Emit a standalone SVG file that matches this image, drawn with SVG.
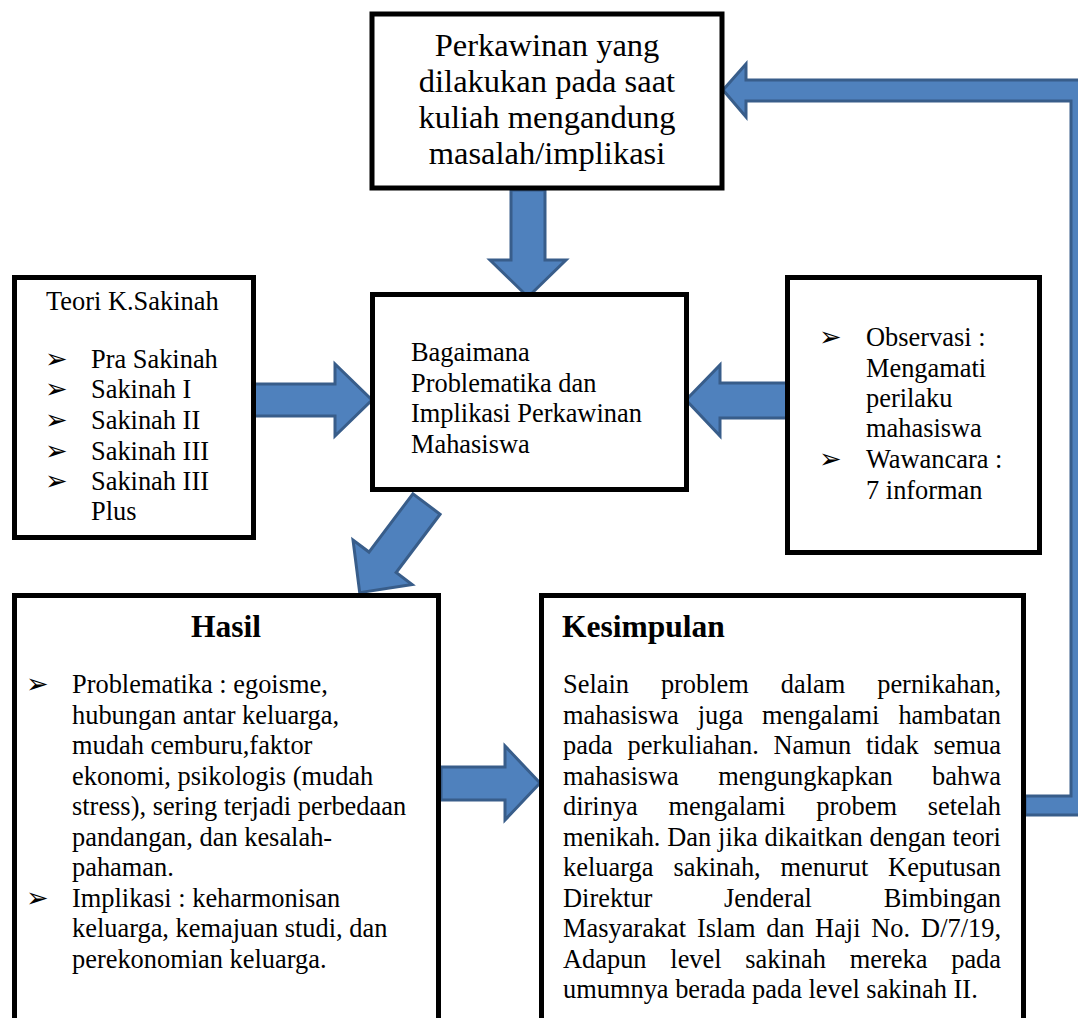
<svg xmlns="http://www.w3.org/2000/svg" width="1078" height="1018" viewBox="0 0 1078 1018">
<style>
.box{fill:#fff;stroke:#000;stroke-width:5}
.arr{fill:#4F81BD;stroke:#385D8A;stroke-width:3;stroke-linejoin:miter}
text{font-family:"Liberation Serif","Times New Roman",serif;fill:#000}
.t{font-size:26.4px}
.big{font-size:32.5px}
.ttl{font-size:31.5px;font-weight:bold}
.bul{font-family:"DejaVu Sans",sans-serif;font-size:27px}
</style>
<rect width="1078" height="1018" fill="#fff"/>
<g id="connectors">
<polygon class="arr" points="511,190 545,190 545,260 566,260 528,297 490,260 511,260"/>
<polygon class="arr" points="253,384 335,384 335,364 372,400 335,436 335,416 253,416"/>
<polygon class="arr" points="787,383 720,383 720,365 686,400 720,436 720,418 787,418"/>
<polygon class="arr" transform="translate(426.5,504) rotate(127)" points="0,-17 73,-17 73,-37 111,0 73,37 73,17 0,17"/>
<polygon class="arr" points="441,767 505,767 505,746 540,783 505,820 505,800 441,800"/>
<polygon class="arr" points="723,90 746,64 746,80 1092,80 1092,815 1025,815 1025,796 1071,796 1071,101 746,101 746,117"/>
</g>
<g id="node-top">
<rect class="box" x="372" y="14" width="350" height="174"/>
<text class="big" text-anchor="middle" x="547" y="56">Perkawinan yang</text>
<text class="big" text-anchor="middle" x="547" y="92">dilakukan pada saat</text>
<text class="big" text-anchor="middle" x="547" y="128">kuliah mengandung</text>
<text class="big" text-anchor="middle" x="547" y="164">masalah/implikasi</text>
</g>
<g id="node-teori">
<rect class="box" x="14.5" y="277.5" width="239" height="260"/>
<text class="t" x="46" y="310">Teori K.Sakinah</text>
<text class="bul" x="45" y="368">➢</text>
<text class="bul" x="45" y="398">➢</text>
<text class="bul" x="45" y="429">➢</text>
<text class="bul" x="45" y="460">➢</text>
<text class="bul" x="45" y="490">➢</text>
<text class="t" x="91" y="368">Pra Sakinah</text>
<text class="t" x="91" y="398">Sakinah I</text>
<text class="t" x="91" y="429">Sakinah II</text>
<text class="t" x="91" y="460">Sakinah III</text>
<text class="t" x="91" y="490">Sakinah III</text>
<text class="t" x="91" y="520">Plus</text>
</g>
<g id="node-center">
<rect class="box" x="372.5" y="294.5" width="314" height="195"/>
<text class="t" x="411" y="361">Bagaimana</text>
<text class="t" x="411" y="392">Problematika dan</text>
<text class="t" x="411" y="422">Implikasi Perkawinan</text>
<text class="t" x="411" y="453">Mahasiswa</text>
</g>
<g id="node-metode">
<rect class="box" x="787.5" y="277.5" width="252" height="275"/>
<text class="bul" x="819" y="346">➢</text>
<text class="bul" x="819" y="468">➢</text>
<text class="t" x="866" y="346">Observasi :</text>
<text class="t" x="866" y="377">Mengamati</text>
<text class="t" x="866" y="407">perilaku</text>
<text class="t" x="866" y="437">mahasiswa</text>
<text class="t" x="866" y="468">Wawancara :</text>
<text class="t" x="866" y="499">7 informan</text>
</g>
<g id="node-hasil">
<rect class="box" x="14.5" y="595.5" width="424" height="500"/>
<text class="ttl" text-anchor="middle" x="226" y="637">Hasil</text>
<text class="bul" x="26" y="693">➢</text>
<text class="bul" x="26" y="906.5">➢</text>
<text class="t" x="72" y="693">Problematika : egoisme,</text>
<text class="t" x="72" y="723.5">hubungan antar keluarga,</text>
<text class="t" x="72" y="754">mudah cemburu,faktor</text>
<text class="t" x="72" y="784.5">ekonomi, psikologis (mudah</text>
<text class="t" x="72" y="815">stress), sering terjadi perbedaan</text>
<text class="t" x="72" y="845.5">pandangan, dan kesalah-</text>
<text class="t" x="72" y="876">pahaman.</text>
<text class="t" x="72" y="906.5">Implikasi : keharmonisan</text>
<text class="t" x="72" y="937">keluarga, kemajuan studi, dan</text>
<text class="t" x="72" y="967.5">perekonomian keluarga.</text>
</g>
<g id="node-kesimpulan">
<rect class="box" x="541.5" y="595.5" width="482" height="500"/>
<text class="ttl" x="562" y="637">Kesimpulan</text>
<text class="t" y="693"><tspan x="563">Selain</tspan><tspan x="660.9">problem</tspan><tspan x="780.8">dalam</tspan><tspan x="877.2">pernikahan,</tspan></text>
<text class="t" y="723.5"><tspan x="563">mahasiswa</tspan><tspan x="697.7">juga</tspan><tspan x="762.1">mengalami</tspan><tspan x="898.4">hambatan</tspan></text>
<text class="t" y="754"><tspan x="563">pada</tspan><tspan x="627.6">perkuliahan.</tspan><tspan x="773.5">Namun</tspan><tspan x="865.9">tidak</tspan><tspan x="933.5">semua</tspan></text>
<text class="t" y="784.5"><tspan x="563">mahasiswa</tspan><tspan x="718.2">mengungkapkan</tspan><tspan x="932.1">bahwa</tspan></text>
<text class="t" y="815"><tspan x="563">dirinya</tspan><tspan x="668.4">mengalami</tspan><tspan x="816.3">probem</tspan><tspan x="927.7">setelah</tspan></text>
<text class="t" y="845.5"><tspan x="563">menikah.</tspan><tspan x="667.3">Dan</tspan><tspan x="718.1">jika</tspan><tspan x="764.5">dikaitkan</tspan><tspan x="869.6">dengan</tspan><tspan x="952.6">teori</tspan></text>
<text class="t" y="876"><tspan x="563">keluarga</tspan><tspan x="673.5">sakinah,</tspan><tspan x="780.4">menurut</tspan><tspan x="888.1">Keputusan</tspan></text>
<text class="t" y="906.5"><tspan x="563">Direktur</tspan><tspan x="724">Jenderal</tspan><tspan x="883.7">Bimbingan</tspan></text>
<text class="t" y="937"><tspan x="563">Masyarakat</tspan><tspan x="696.9">Islam</tspan><tspan x="766.3">dan</tspan><tspan x="815.1">Haji</tspan><tspan x="871.3">No.</tspan><tspan x="921.1">D/7/19,</tspan></text>
<text class="t" y="967.5"><tspan x="563">Adapun</tspan><tspan x="670.3">level</tspan><tspan x="745.3">sakinah</tspan><tspan x="849.7">mereka</tspan><tspan x="951.2">pada</tspan></text>
<text class="t" x="563" y="998">umumnya berada pada level sakinah II.</text>
</g>
</svg>
